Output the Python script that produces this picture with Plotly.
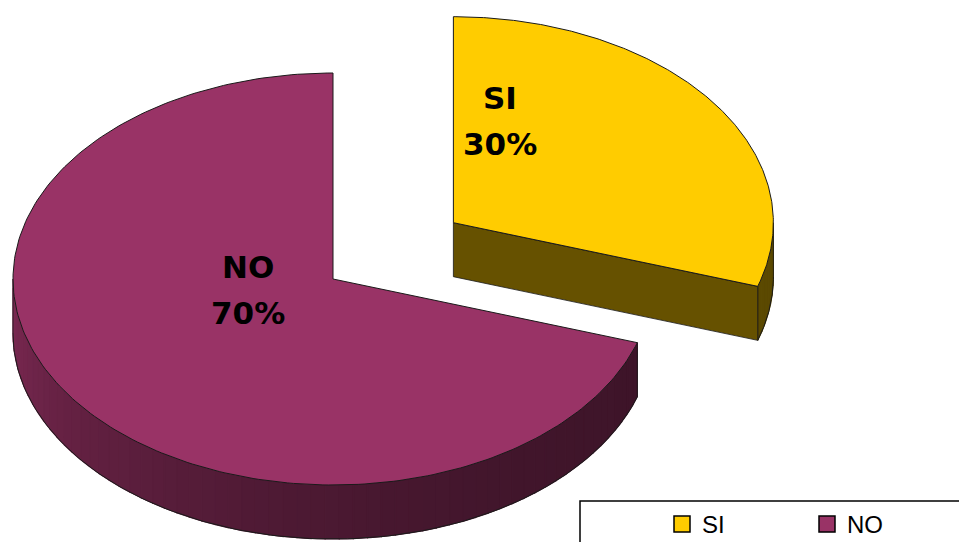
import numpy as np
import plotly.graph_objects as go

# Data
labels = ["SI", "NO"]
values = [30, 70]
top_colors = ["#FFCC00", "#993366"]
explode = [0.465, 0.0]

# Drawing geometry (pixel-like units on hidden axes)
W, H = 959, 542
CX, CY = 333, 279          # centre of the unexploded top face
RX, RY = 320, 206          # ellipse radii of the tilted disc
DEPTH = 54                 # thickness of the disc
EDGE = "#1a1a1a"

# Label placement (relative to each slice's vertex, pixels)
label_offsets = [(47, -102), (-85, 11)]
LINE_GAP = 46


def hex_rgb(h):
    h = h.lstrip("#")
    return tuple(int(h[i:i + 2], 16) for i in (0, 2, 4))


def shade(h, f):
    r, g, b = hex_rgb(h)
    return "rgb({},{},{})".format(int(r * f), int(g * f), int(b * f))


def pt(t, ox, oy, dz=0.0):
    return ox + RX * np.cos(t), oy - RY * np.sin(t) + dz


def wall_factor(tdeg):
    # lighter on the left, darker toward the right
    u = np.clip((tdeg + 180.0) / 162.0, 0, 1)
    return 0.41 + 0.41 * (1 - u) ** 2


fig = go.Figure()


def poly(xs, ys, fill, line_color=None, width=1.0):
    fig.add_trace(go.Scatter(
        x=list(xs) + [xs[0]], y=list(ys) + [ys[0]], mode="lines",
        fill="toself", fillcolor=fill,
        line=dict(color=line_color or fill, width=width),
        hoverinfo="skip", showlegend=False))


def line(xs, ys, color=EDGE, width=1.0):
    fig.add_trace(go.Scatter(x=xs, y=ys, mode="lines",
                             line=dict(color=color, width=width),
                             hoverinfo="skip", showlegend=False))


total = float(sum(values))
slices = []
start = 90.0
for lab, v, col, e in zip(labels, values, top_colors, explode):
    a0 = start
    a1 = start - 360.0 * v / total
    mid = np.radians((a0 + a1) / 2)
    ox = CX + e * RX * np.cos(mid)
    oy = CY - e * RY * np.sin(mid)
    slices.append(dict(label=lab, value=v, color=col, a0=a0, a1=a1,
                       ox=ox, oy=oy, mid=mid, exploded=e > 0))
    start = a1

# paint back slices first
order = sorted(range(len(slices)), key=lambda i: -np.sin(slices[i]["mid"]))

for i in order:
    s = slices[i]
    a0, a1, ox, oy, col = s["a0"], s["a1"], s["ox"], s["oy"], s["color"]

    # visible part of the outer wall (front half of the disc)
    for lo, hi in ((-180.0, 0.0), (180.0, 360.0), (-540.0, -360.0)):
        w0, w1 = max(a1, lo), min(a0, hi)
        if w1 - w0 <= 0.01:
            continue
        n = max(2, int((w1 - w0) / 2.5))
        edges = np.linspace(w0, w1, n + 1)
        for k in range(n):
            t0, t1 = np.radians(edges[k]), np.radians(edges[k + 1])
            ts = np.linspace(t0, t1, 4)
            xt, yt = pt(ts, ox, oy)
            xb, yb = pt(ts[::-1], ox, oy, DEPTH)
            if s["exploded"]:
                f = 0.36
            else:
                f = wall_factor(((edges[k] + edges[k + 1]) / 2 + 180) % 360 - 180)
            poly(np.r_[xt, xb], np.r_[yt, yb], shade(col, f), width=1.2)
        ts = np.radians(np.linspace(w0, w1, 120))
        xb, yb = pt(ts, ox, oy, DEPTH)
        line(xb, yb)
        for a in (w0, w1):
            xa, ya = pt(np.radians(a), ox, oy)
            line([xa, xa], [ya, ya + DEPTH], width=0.8)

    # radial cut faces facing the viewer
    for a, vis in ((a1, np.cos(np.radians(a1)) > 1e-6),
                   (a0, np.cos(np.radians(a0)) < -1e-6)):
        if not vis:
            continue
        xe, ye = pt(np.radians(a), ox, oy)
        poly([ox, xe, xe, ox], [oy, ye, ye + DEPTH, oy + DEPTH],
             shade(col, 0.4), line_color=EDGE, width=0.8)

    # top face
    ts = np.radians(np.linspace(a0, a1, 240))
    xt, yt = pt(ts, ox, oy)
    poly(np.r_[ox, xt], np.r_[oy, yt], col, line_color=EDGE, width=1.0)

# data labels
for s, (dx, dy) in zip(slices, label_offsets):
    pct = 100.0 * s["value"] / total
    lx, ly = s["ox"] + dx, s["oy"] + dy
    for txt, yy in ((s["label"], ly - LINE_GAP / 2), ("{:.0f}%".format(pct), ly + LINE_GAP / 2)):
        fig.add_annotation(x=lx, y=yy, text="<b>" + txt + "</b>", showarrow=False,
                           font=dict(family="DejaVu Sans", size=31, color="black"),
                           xanchor="center", yanchor="middle")

# legend entries
for lab, col in zip(labels, top_colors):
    fig.add_trace(go.Scatter(x=[None], y=[None], mode="markers", name=lab,
                             marker=dict(symbol="square", size=16, color=col,
                                         line=dict(color="black", width=1.5))))

# legend frame
fig.add_shape(type="rect", xref="x", yref="y", x0=580, y0=501, x1=975, y1=560,
              line=dict(color="black", width=1.5), fillcolor="rgba(0,0,0,0)")

fig.update_layout(
    width=W, height=H,
    margin=dict(l=0, r=0, t=0, b=0, autoexpand=False),
    paper_bgcolor="white", plot_bgcolor="white",
    xaxis=dict(range=[0, W], visible=False, fixedrange=True),
    yaxis=dict(range=[H, 0], visible=False, fixedrange=True),
    showlegend=True,
    legend=dict(orientation="h", x=662 / W, xanchor="left",
                y=1 - 502 / H, yanchor="top",
                font=dict(family="Liberation Sans, Arial", size=24, color="black"),
                entrywidth=100, itemwidth=30, bgcolor="rgba(0,0,0,0)",
                borderwidth=0, tracegroupgap=0),
)

fig.write_html("out.html")
